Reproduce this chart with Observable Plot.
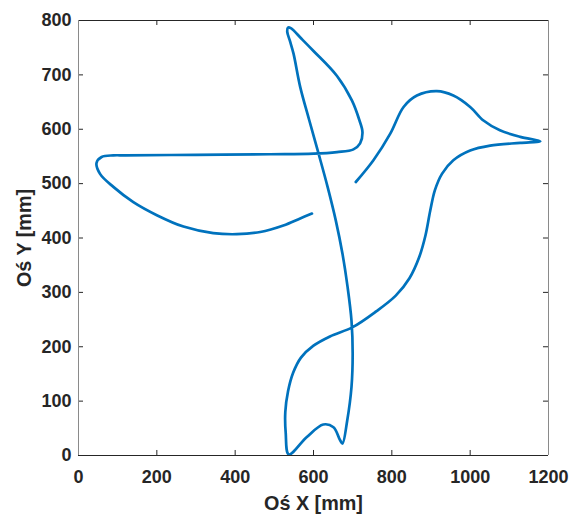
<!DOCTYPE html>
<html>
<head>
<meta charset="utf-8">
<script src="https://cdn.jsdelivr.net/npm/d3@7"></script>
<script src="https://cdn.jsdelivr.net/npm/@observablehq/plot@0.6"></script>
<style>
  html, body { margin: 0; padding: 0; background: #fff; }
</style>
</head>
<body>
<div id="chart"></div>
<script>
// Path of the curve (mm), in drawing order
const pathX = [708, 753, 796, 830, 864, 915, 957, 1000, 1034, 1076, 1128, 1179,
  1128, 1051, 1000, 957, 928, 910, 898, 886, 870, 845, 810, 760, 700, 642, 600, 568, 548, 535, 528, 529, 537,
  583, 625, 651, 668, 674,
  686, 697, 700, 697, 687, 674, 657, 636, 613, 589, 566, 549, 540, 533, 535, 542,
  570, 600, 660, 698, 717, 725, 719, 702, 660, 600, 489, 300, 120, 89, 59, 46, 55, 89, 140, 200, 268, 344, 404, 464, 523, 566, 596];
const pathY = [503, 543, 592, 641, 662, 670, 662, 641, 616, 598, 586, 578,
  575, 570, 561, 543, 518, 488, 450, 405, 365, 326, 294, 265, 236, 219, 202, 180, 152, 118, 80, 42, 2,
  34, 57, 52, 28, 22,
  64, 126, 187, 248, 310, 371, 432, 494, 555, 617, 678, 739, 762, 779, 787, 786,
  766, 744, 698, 653, 617, 595, 574, 563, 558, 555, 554, 553, 552, 552, 549, 538, 518, 494, 466, 442, 421, 409, 407, 411, 423, 436, 445];

const xTicks = [0, 200, 400, 600, 800, 1000, 1200];
const yTicks = [0, 100, 200, 300, 400, 500, 600, 700, 800];
const xLabel = "Oś X [mm]";
const yLabel = "Oś Y [mm]";

const points = pathX.map((x, i) => ({x, y: pathY[i]}));
const ink = "#262626";

const chart = Plot.plot({
  width: 575,
  height: 514,
  marginTop: 20,
  marginBottom: 59,
  marginLeft: 78,
  marginRight: 27,
  style: {fontFamily: "'Liberation Sans', Arial, sans-serif", fontSize: "18px", fontWeight: "bold", color: ink, background: "#fff"},
  x: {domain: [0, 1200]},
  y: {domain: [0, 800]},
  marks: [
    Plot.line(points, {x: "x", y: "y", curve: "catmull-rom", stroke: "#0072BD", strokeWidth: 2.7}),
    Plot.axisX(xTicks, {anchor: "bottom", tickSize: 0, tickPadding: 15, label: null, tickFormat: d => String(d), fill: ink, fontSize: 18, fontWeight: "bold"}),
    Plot.axisY(yTicks, {anchor: "left", tickSize: 0, tickPadding: 7, label: null, tickFormat: d => String(d), fill: ink, fontSize: 18, fontWeight: "bold"}),
    Plot.ruleX(xTicks, {x: d => d, y1: 0, y2: 9.2, stroke: ink, strokeWidth: 1}),
    Plot.ruleX(xTicks, {x: d => d, y1: 790.8, y2: 800, stroke: ink, strokeWidth: 1}),
    Plot.ruleY(yTicks, {y: d => d, x1: 0, x2: 12.8, stroke: ink, strokeWidth: 1}),
    Plot.ruleY(yTicks, {y: d => d, x1: 1187.2, x2: 1200, stroke: ink, strokeWidth: 1}),
    Plot.ruleY([0, 800], {x1: 0, x2: 1200, stroke: ink, strokeWidth: 1}),
    Plot.ruleX([0, 1200], {y1: 0, y2: 800, stroke: "#8a8a8a", strokeWidth: 1}),
    Plot.text([xLabel], {frameAnchor: "bottom", lineAnchor: "middle", textAnchor: "middle", dy: 48.5, text: d => d, fill: ink, fontSize: 19.8, fontWeight: "bold"}),
    Plot.text([yLabel], {frameAnchor: "left", lineAnchor: "middle", textAnchor: "middle", dx: -54, rotate: -90, text: d => d, fill: ink, fontSize: 19.8, fontWeight: "bold"})
  ]
});
document.getElementById("chart").appendChild(chart);
</script>
</body>
</html>
